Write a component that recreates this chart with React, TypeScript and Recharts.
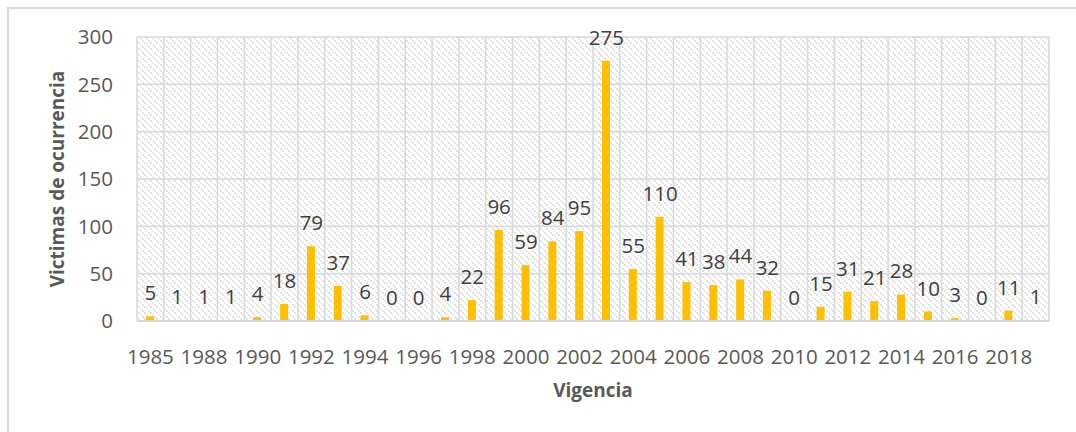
import React from 'react';
import { ComposedChart, Bar, Line, XAxis, YAxis, CartesianGrid, LabelList, Label } from 'recharts';

// Años (vigencia) y víctimas por año
const years = [
  '1985', '1987', '1988', '1989', '1990', '1991', '1992', '1993', '1994', '1995',
  '1996', '1997', '1998', '1999', '2000', '2001', '2002', '2003', '2004', '2005',
  '2006', '2007', '2008', '2009', '2010', '2011', '2012', '2013', '2014', '2015',
  '2016', '2017', '2018', '2019',
];
const victims = [
  5, 1, 1, 1, 4, 18, 79, 37, 6, 0,
  0, 4, 22, 96, 59, 84, 95, 275, 55, 110,
  41, 38, 44, 32, 0, 15, 31, 21, 28, 10,
  3, 0, 11, 1,
];
const yTicks = [0, 50, 100, 150, 200, 250, 300];

const data = years.map((year, i) => ({ year, victimas: victims[i] }));

const FONT = '"Open Sans", "Liberation Sans", sans-serif';
const TEXT = '#595959';
const GRID = '#d9d9d9';

export default function App() {
  // líneas verticales en los límites de cada categoría (como en Excel)
  const boundaries = ({ offset }: any) => {
    const n = years.length;
    const step = offset.width / n;
    return Array.from({ length: n + 1 }, (_, i) => offset.left + i * step);
  };

  return (
    <div style={{ position: 'absolute', left: 0, top: 0, width: 1076, height: 432, overflow: 'hidden', background: '#fff' }}>
      <div
        style={{
          position: 'absolute',
          left: 7,
          top: 7,
          width: 1090,
          height: 440,
          border: '2px solid #d9d9d9',
          boxSizing: 'border-box',
        }}
      />
      <div style={{ position: 'absolute', left: 0, top: 0 }}>
        <ComposedChart
          width={1076}
          height={432}
          data={data}
          margin={{ top: 37, right: 27, left: 47, bottom: 41 }}
          barSize={8}
        >
          <defs>
            <pattern id="dots" width="6" height="6" patternUnits="userSpaceOnUse">
              <rect width="6" height="6" fill="#ffffff" />
              <rect x="0" y="0" width="2" height="2" fill="#e3e3e3" />
              <rect x="2" y="2" width="2" height="2" fill="#ececec" />
              <rect x="4" y="4" width="2" height="2" fill="#e3e3e3" />
            </pattern>
          </defs>
          <CartesianGrid
            fill="url(#dots)"
            stroke={GRID}
            strokeWidth={1.5}
            verticalCoordinatesGenerator={boundaries}
          />
          <XAxis
            dataKey="year"
            interval={1}
            height={70}
            tickSize={0}
            tickMargin={28}
            axisLine={{ stroke: GRID, strokeWidth: 2 }}
            tickLine={false}
            tick={{ fill: TEXT, fontSize: 20.5, fontFamily: FONT }}
          >
            <Label
              value="Vigencia"
              position="insideBottom"
              offset={-6}
              style={{ fill: TEXT, fontSize: 19, fontWeight: 'bold', fontFamily: FONT }}
            />
          </XAxis>
          <YAxis
            domain={[0, 300]}
            ticks={yTicks}
            width={90}
            tickSize={0}
            tickMargin={24}
            axisLine={false}
            tickLine={false}
            tick={{ fill: TEXT, fontSize: 20.5, fontFamily: FONT }}
          >
            <Label
              value="Victimas de ocurrencia"
              angle={-90}
              position="insideLeft"
              offset={10}
              style={{ fill: TEXT, fontSize: 19, fontWeight: 'bold', fontFamily: FONT, textAnchor: 'middle' }}
            />
          </YAxis>
          <Bar dataKey="victimas" fill="#FFC000" isAnimationActive={false} />
          {/* serie invisible solo para las etiquetas (incluye los ceros) */}
          <Line
            dataKey="victimas"
            stroke="none"
            dot={false}
            activeDot={false}
            isAnimationActive={false}
          >
            <LabelList
              dataKey="victimas"
              position="top"
              offset={16}
              style={{ fill: '#404040', fontSize: 20.5, fontFamily: FONT }}
            />
          </Line>
        </ComposedChart>
      </div>
    </div>
  );
}
